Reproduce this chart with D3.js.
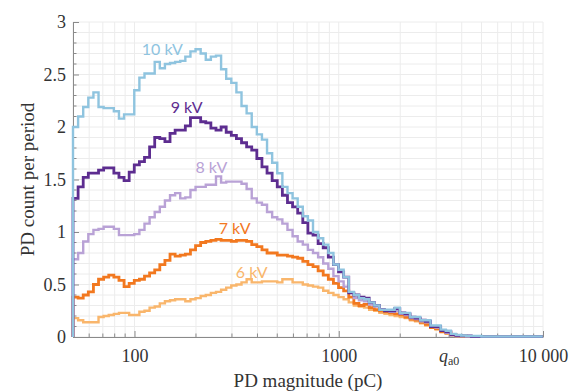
<!DOCTYPE html>
<html lang="en">
<head>
  <meta charset="UTF-8">
  <title>PD count per period</title>
  <script src="https://d3js.org/d3.v7.min.js"></script>
  <style>
    body { margin: 0; background: #fff; }
  </style>
</head>
<body>
  <svg width="581" height="392"></svg>

  <script>
    // Histogram bins: 40 per decade starting at 50 pC
    const binStart = 50;
    const binsPerDecade = 40;
    const binCount = 92;

    // PD count per period for each bin
    const kv10 = [2.00,2.10,2.19,2.28,2.33,2.19,2.18,2.18,2.15,2.08,
      2.12,2.12,2.35,2.47,2.51,2.51,2.62,2.56,2.60,2.61,
      2.62,2.63,2.67,2.72,2.74,2.70,2.64,2.67,2.68,2.55,
      2.46,2.42,2.33,2.20,2.13,2.00,1.93,1.88,1.75,1.66,
      1.56,1.43,1.37,1.32,1.24,1.15,1.11,1.00,0.94,0.88,
      0.80,0.69,0.64,0.57,0.43,0.40,0.37,0.36,0.33,0.30,
      0.26,0.26,0.26,0.28,0.23,0.23,0.19,0.19,0.16,0.16,
      0.11,0.11,0.07,0.06,0.03,0.02,0.015,0.01,0.01,0.01,
      0.005,0.005,0.005,0.005,0.005,0.005,0.005,0.005,0.005,0.005,0.005,0.005];
    const kv9 = [1.32,1.43,1.52,1.56,1.56,1.59,1.61,1.61,1.56,1.52,
      1.49,1.57,1.64,1.67,1.71,1.81,1.90,1.89,1.86,1.94,
      1.97,1.97,2.01,2.09,2.09,2.05,2.04,1.99,1.97,2.00,
      1.95,1.92,1.89,1.85,1.81,1.78,1.70,1.62,1.56,1.49,
      1.43,1.35,1.28,1.24,1.18,1.09,0.99,0.97,0.89,0.85,
      0.76,0.69,0.62,0.57,0.42,0.40,0.38,0.37,0.33,0.30,
      0.26,0.25,0.25,0.27,0.23,0.22,0.19,0.18,0.16,0.15,
      0.10,0.10,0.06,0.05,0.02,0.015,0.01,0.01,0.005,0.005,
      0.004,0.004,0.004,0.004,0.004,0.004,0.004,0.004,0.004,0.004,0.004,0.004];
    const kv8 = [0.74,0.80,0.91,0.98,1.02,1.03,1.05,1.05,1.03,0.97,
      0.97,0.97,0.98,1.02,1.08,1.14,1.19,1.24,1.30,1.35,
      1.37,1.32,1.33,1.40,1.43,1.43,1.45,1.45,1.53,1.47,
      1.48,1.48,1.48,1.46,1.41,1.32,1.28,1.26,1.19,1.14,
      1.12,1.08,1.02,0.96,0.91,0.88,0.83,0.80,0.76,0.70,
      0.65,0.58,0.53,0.48,0.42,0.37,0.35,0.34,0.31,0.29,
      0.26,0.25,0.24,0.25,0.22,0.21,0.18,0.17,0.15,0.14,
      0.10,0.09,0.06,0.04,0.02,0.01,0.01,0.005,0.004,0.004,
      0.003,0.003,0.003,0.003,0.003,0.003,0.003,0.003,0.003,0.003,0.003,0.003];
    const kv7 = [0.38,0.37,0.40,0.43,0.50,0.55,0.57,0.59,0.57,0.54,
      0.48,0.51,0.54,0.55,0.58,0.61,0.64,0.69,0.73,0.79,
      0.77,0.78,0.79,0.83,0.87,0.90,0.91,0.92,0.93,0.92,
      0.92,0.91,0.92,0.92,0.91,0.88,0.86,0.83,0.80,0.80,
      0.78,0.78,0.77,0.76,0.75,0.72,0.69,0.67,0.63,0.59,
      0.55,0.51,0.47,0.44,0.38,0.32,0.30,0.31,0.28,0.26,
      0.25,0.24,0.23,0.22,0.21,0.19,0.17,0.16,0.14,0.12,
      0.09,0.08,0.05,0.04,0.02,0.01,0.01,0.005,0.004,0.003,
      0.003,0.003,0.003,0.003,0.003,0.003,0.003,0.003,0.003,0.003,0.003,0.003];
    const kv6 = [0.18,0.16,0.14,0.14,0.14,0.19,0.20,0.21,0.22,0.23,
      0.23,0.21,0.21,0.24,0.25,0.28,0.29,0.32,0.34,0.35,
      0.36,0.36,0.34,0.36,0.37,0.39,0.40,0.42,0.43,0.45,
      0.47,0.49,0.50,0.52,0.55,0.52,0.52,0.53,0.53,0.53,
      0.52,0.55,0.55,0.52,0.52,0.50,0.49,0.48,0.47,0.44,
      0.42,0.40,0.38,0.36,0.33,0.30,0.29,0.28,0.26,0.25,
      0.23,0.22,0.21,0.20,0.19,0.18,0.16,0.15,0.13,0.11,
      0.09,0.07,0.05,0.03,0.02,0.01,0.005,0.004,0.003,0.003,
      0.002,0.002,0.002,0.002,0.002,0.002,0.002,0.002,0.002,0.002,0.002,0.002];

    const seriesNames = ["6 kV", "7 kV", "8 kV", "9 kV", "10 kV"];
    const seriesValues = [kv6, kv7, kv8, kv9, kv10];
    const seriesColors = ["#f9b66c", "#f2781f", "#b9a2d6", "#5d2d90", "#8fc4df"];
    const seriesWidths = [2.4, 2.8, 2.4, 2.8, 2.4];

    // label anchors (pC, count) for the inline voltage labels
    const labelX = [375, 309, 238, 180, 137];
    const labelY = [0.62, 1.03, 1.62, 2.19, 2.74];

    const yTicks = [0, 0.5, 1, 1.5, 2, 2.5, 3];
    const qa0 = 3450;
    const xTicks = [100, 1000, qa0, 10000];

    const svg = d3.select("svg");
    const margin = { top: 22, right: 38, bottom: 55, left: 73 };
    const width = +svg.attr("width") - margin.left - margin.right;
    const height = +svg.attr("height") - margin.top - margin.bottom;
    const g = svg.append("g").attr("transform", `translate(${margin.left},${margin.top})`);

    const x = d3.scaleLog().domain([50, 10000]).range([0, width]);
    const y = d3.scaleLinear().domain([0, 3]).range([height, 0]);

    const edges = d3.range(binCount + 1).map(k => binStart * Math.pow(10, k / binsPerDecade));

    // grid
    const xMinor = [];
    [10, 100, 1000].forEach(d => d3.range(1, 10).forEach(m => { if (d * m >= 50) xMinor.push(d * m); }));
    xMinor.push(10000);
    const yMinor = d3.range(0, 31).map(i => i / 10);

    g.append("g").selectAll("line").data(xMinor).join("line")
      .attr("x1", d => x(d)).attr("x2", d => x(d))
      .attr("y1", 0).attr("y2", height)
      .attr("stroke", "#ececec").attr("stroke-width", 1);
    g.append("g").selectAll("line").data(yMinor).join("line")
      .attr("x1", 0).attr("x2", width)
      .attr("y1", d => y(d)).attr("y2", d => y(d))
      .attr("stroke", "#ececec").attr("stroke-width", 1);

    // axes
    const xAxis = g.append("g")
      .attr("transform", `translate(0,${height})`)
      .call(d3.axisBottom(x).tickValues(xTicks).tickSizeInner(-6).tickSizeOuter(0).tickPadding(12)
        .tickFormat(d => d === 10000 ? "10 000" : d === qa0 ? "" : d3.format("d")(d)));
    xAxis.select(".domain").attr("stroke", "#8a8a8a");
    xAxis.selectAll(".tick line").attr("stroke", "#8a8a8a");
    xAxis.selectAll("text")
      .style("font-family", "'Liberation Serif', serif").style("font-size", "18px").attr("fill", "#333");
    const qTick = xAxis.selectAll(".tick").filter(d => d === qa0).select("text");
    qTick.append("tspan").attr("font-style", "italic").text("q");
    qTick.append("tspan").attr("font-size", "12px").attr("dy", "0.25em").text("a0");

    // minor ticks on x
    g.append("g").selectAll("line").data(xMinor.filter(d => xTicks.indexOf(d) < 0)).join("line")
      .attr("x1", d => x(d)).attr("x2", d => x(d))
      .attr("y1", height).attr("y2", height - 3.5)
      .attr("stroke", "#8a8a8a");

    const yAxis = g.append("g")
      .call(d3.axisLeft(y).tickValues(yTicks).tickSizeInner(-6).tickSizeOuter(0).tickPadding(7)
        .tickFormat(d3.format("")));
    yAxis.select(".domain").attr("stroke", "#8a8a8a");
    yAxis.selectAll(".tick line").attr("stroke", "#8a8a8a");
    yAxis.selectAll("text")
      .style("font-family", "'Liberation Serif', serif").style("font-size", "18px").attr("fill", "#333");
    g.append("g").selectAll("line").data(yMinor.filter(d => yTicks.indexOf(d) < 0)).join("line")
      .attr("x1", 0).attr("x2", 3.5)
      .attr("y1", d => y(d)).attr("y2", d => y(d))
      .attr("stroke", "#8a8a8a");

    // step histograms
    const line = d3.line().x(d => x(d[0])).y(d => y(d[1])).curve(d3.curveStepAfter);
    seriesValues.forEach((vals, s) => {
      const pts = [[edges[0], 0]];
      vals.forEach((v, i) => pts.push([edges[i], v]));
      pts.push([edges[binCount], vals[binCount - 1]]);
      g.append("path")
        .datum(pts)
        .attr("fill", "none")
        .attr("stroke", seriesColors[s])
        .attr("stroke-width", seriesWidths[s])
        .attr("stroke-linejoin", "miter")
        .attr("d", line);
    });

    // inline labels
    seriesNames.forEach((name, s) => {
      g.append("text")
        .attr("x", x(labelX[s]))
        .attr("y", y(labelY[s]))
        .attr("text-anchor", "middle")
        .attr("dy", "0.35em")
        .style("font-family", "Lato, 'Open Sans', sans-serif")
        .style("font-size", "16px")
        .attr("fill", seriesColors[s])
        .text(name);
    });

    // axis titles
    svg.append("text")
      .attr("x", margin.left + width / 2)
      .attr("y", 387)
      .attr("text-anchor", "middle")
      .style("font-family", "'Liberation Serif', serif")
      .style("font-size", "19px")
      .attr("fill", "#333")
      .text("PD magnitude (pC)");

    svg.append("text")
      .attr("transform", `translate(27,${margin.top + height / 2}) rotate(-90)`)
      .attr("text-anchor", "middle")
      .attr("dy", "0.35em")
      .style("font-family", "'Liberation Serif', serif")
      .style("font-size", "19px")
      .attr("fill", "#333")
      .text("PD count per period");
  </script>
</body>
</html>
